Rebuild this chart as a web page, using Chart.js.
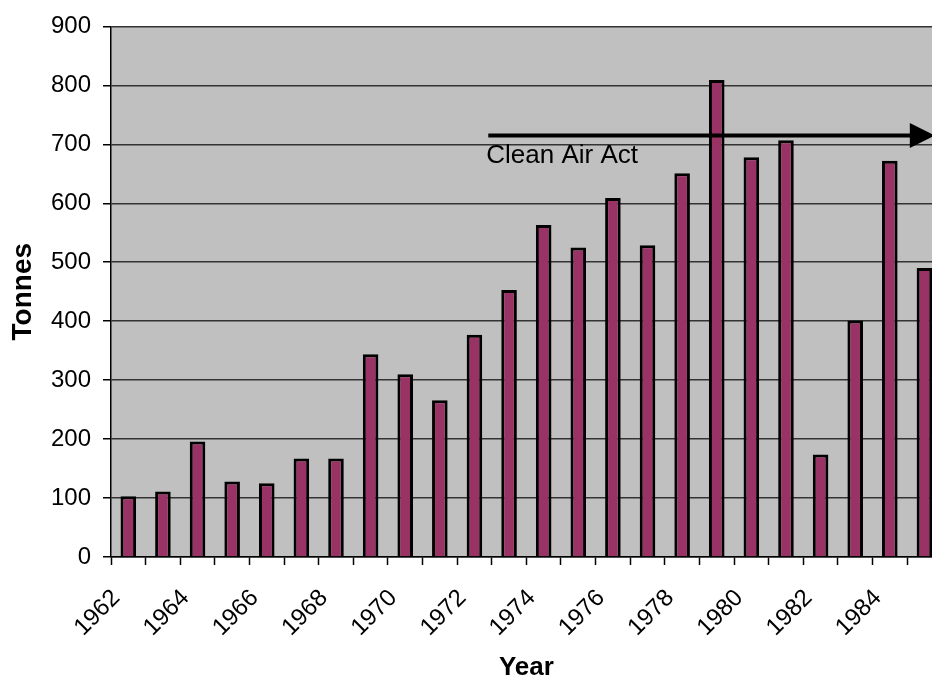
<!DOCTYPE html>
<html>
<head>
<meta charset="utf-8">
<script src="https://cdn.jsdelivr.net/npm/chart.js@4"></script>
<style>
  html, body { margin: 0; padding: 0; background: #fff; overflow: hidden; }
  #wrap { width: 932px; height: 677px; overflow: hidden; position: relative; }
  canvas { display: block; }
</style>
</head>
<body>
<div id="wrap"><canvas id="chart" width="964" height="690"></canvas></div>
<script>
// Annual tonnage, 1962-1985
const years = ['1962','1963','1964','1965','1966','1967','1968','1969','1970','1971','1972','1973',
               '1974','1975','1976','1977','1978','1979','1980','1981','1982','1983','1984','1985'];
const tonnes = [103, 111, 196, 128, 125, 167, 167, 344, 310, 266, 377, 453,
                563, 525, 609, 529, 651, 809, 678, 707, 174, 401, 672, 490];

// Value axis
const yMin = 0;
const yMax = 900;
const yStep = 100;

// Clean Air Act marker: runs from late 1972 onward at this level
const actLabel = 'Clean Air Act';
const actFromYear = 1972.4;
const actToYear = 1985.3;
const actLevel = 715;

const FONT = '"Liberation Sans", Arial, Helvetica, sans-serif';
Chart.defaults.font.family = FONT;
Chart.defaults.color = '#000';

// Grey plot background
const plotBackground = {
  id: 'plotBackground',
  beforeDraw(chart) {
    const { ctx, chartArea: a } = chart;
    ctx.save();
    ctx.fillStyle = '#C0C0C0';
    ctx.fillRect(a.left, a.top, a.right - a.left, a.bottom - a.top);
    ctx.restore();
  }
};

// Arrow with caption for the Clean Air Act period
const actArrow = {
  id: 'actArrow',
  afterDatasetsDraw(chart) {
    const { ctx, scales: { x, y } } = chart;
    const first = Number(years[0]);
    const x0 = x.getPixelForValue(actFromYear - first);
    const x1 = x.getPixelForValue(actToYear - first);
    const yy = y.getPixelForValue(actLevel);
    const head = 25;
    ctx.save();
    ctx.strokeStyle = '#000';
    ctx.fillStyle = '#000';
    ctx.lineWidth = 4;
    ctx.beginPath();
    ctx.moveTo(x0, yy);
    ctx.lineTo(x1 - head + 2, yy);
    ctx.stroke();
    ctx.beginPath();
    ctx.moveTo(x1, yy);
    ctx.lineTo(x1 - head, yy - 12.5);
    ctx.lineTo(x1 - head, yy + 12.5);
    ctx.closePath();
    ctx.fill();
    ctx.font = '26px ' + FONT;
    ctx.textAlign = 'left';
    ctx.textBaseline = 'alphabetic';
    ctx.fillText(actLabel, x0 - 2, yy + 28);
    ctx.restore();
  }
};

new Chart(document.getElementById('chart'), {
  type: 'bar',
  data: {
    labels: years,
    datasets: [{
      label: 'Tonnes',
      data: tonnes,
      backgroundColor: '#993366',
      borderColor: '#000',
      borderWidth: 3,
      categoryPercentage: 1,
      barPercentage: 0.45
    }]
  },
  options: {
    responsive: false,
    animation: false,
    layout: { padding: { top: 23, right: 10, bottom: 0, left: 0 } },
    plugins: {
      legend: { display: false },
      tooltip: { enabled: false }
    },
    scales: {
      x: {
        offset: true,
        afterFit(scale) { scale.height = 133; },
        grid: {
          offset: true,
          drawOnChartArea: false,
          drawTicks: true,
          tickLength: 8,
          tickColor: '#000',
          tickWidth: 1.5
        },
        border: { color: '#000', width: 1.5 },
        ticks: {
          autoSkip: false,
          maxRotation: 45,
          minRotation: 45,
          padding: 19,
          labelOffset: -12,
          font: { size: 24 },
          color: '#000',
          callback(value, index) { return index % 2 === 0 ? years[index] : ''; }
        },
        title: {
          display: true,
          text: 'Year',
          font: { size: 26, weight: 'bold' },
          color: '#000',
          padding: { top: 0, bottom: 6.7 }
        }
      },
      y: {
        min: yMin,
        max: yMax,
        afterFit(scale) { scale.width = 111; },
        grid: {
          color: '#333',
          lineWidth: 1.5,
          drawTicks: true,
          tickLength: 8,
          tickColor: '#000',
          tickWidth: 1.5
        },
        border: { color: '#000', width: 1.5 },
        ticks: {
          stepSize: yStep,
          padding: 12,
          font: { size: 24 },
          color: '#000'
        },
        title: {
          display: true,
          text: 'Tonnes',
          font: { size: 28, weight: 'bold' },
          color: '#000',
          padding: { top: 6, bottom: 0 }
        }
      }
    }
  },
  plugins: [plotBackground, actArrow]
});
</script>
</body>
</html>
